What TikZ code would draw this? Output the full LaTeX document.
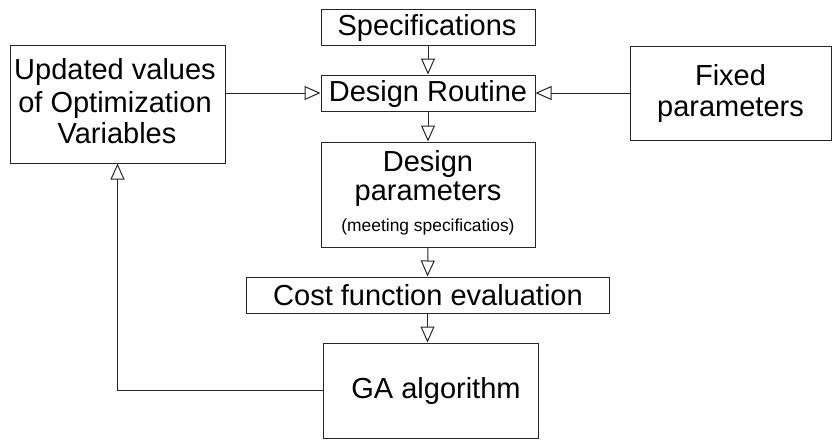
\documentclass[tikz,border=0pt]{standalone}
\usepackage{fontspec}
\setmainfont{Liberation Sans}
\usetikzlibrary{arrows.meta}
\tikzset{
  box/.style={draw=black!85, line width=1pt, fill=white, inner sep=0pt},
  big/.style={anchor=base, inner sep=0pt, font=\fontsize{29}{31}\selectfont},
  small/.style={anchor=base, inner sep=0pt, font=\fontsize{17.4}{20}\selectfont},
  arr/.style={draw=black!85, line width=1pt, -{Triangle[open, length=16pt, width=14pt, line width=1pt]}},
  ln/.style={draw=black!85, line width=1pt}
}
\begin{document}
\begin{tikzpicture}[x=1pt, y=-1pt]
\useasboundingbox (0,0) rectangle (832,439);
% boxes
\node[box, minimum width=214pt, minimum height=36pt] (spec) at (428,27) {};
\node[box, minimum width=214pt, minimum height=36pt] (routine) at (428,93) {};
\node[box, minimum width=215pt, minimum height=118pt] (upd) at (117.5,104) {};
\node[box, minimum width=201pt, minimum height=94pt] (fixed) at (730.5,93) {};
\node[box, minimum width=214pt, minimum height=105pt] (dparam) at (428,194.5) {};
\node[box, minimum width=363pt, minimum height=36pt] (cost) at (427.5,295) {};
\node[box, minimum width=215pt, minimum height=95pt] (ga) at (430.5,390.5) {};
% texts
\node[big] (tspec) at (427,35) {Specifications};
\node[big] (troutine) at (428,101) {Design Routine};
\node[big] (tupd1) at (115,79.5) {Updated values};
\node[big] (tupd2) at (115,112) {of Optimization};
\node[big] (tupd3) at (117,143) {Variables};
\node[big] (tfix1) at (730.5,85) {Fixed};
\node[big] (tfix2) at (730.5,116) {parameters};
\node[big] (tdp1) at (428,171) {Design};
\node[big] (tdp2) at (428,200) {parameters};
\node[small] (tdp3) at (428,231) {(meeting specificatios)};
\node[big] (tcost) at (428,305.5) {Cost function evaluation};
\node[big] (tga) at (436,398) {GA algorithm};
% connectors
\draw[arr] (spec.south) -- (routine.north);
\draw[arr] (upd.east |- routine.west) -- (routine.west);
\draw[arr] (fixed.west) -- (routine.east);
\draw[arr] (routine.south) -- (dparam.north);
\draw[arr] (dparam.south) -- (cost.north);
\draw[arr] (cost.south) -- (cost.south |- ga.north);
\draw[arr] (ga.west) -- (upd.south |- ga.west) -- (upd.south);
\end{tikzpicture}
\end{document}
